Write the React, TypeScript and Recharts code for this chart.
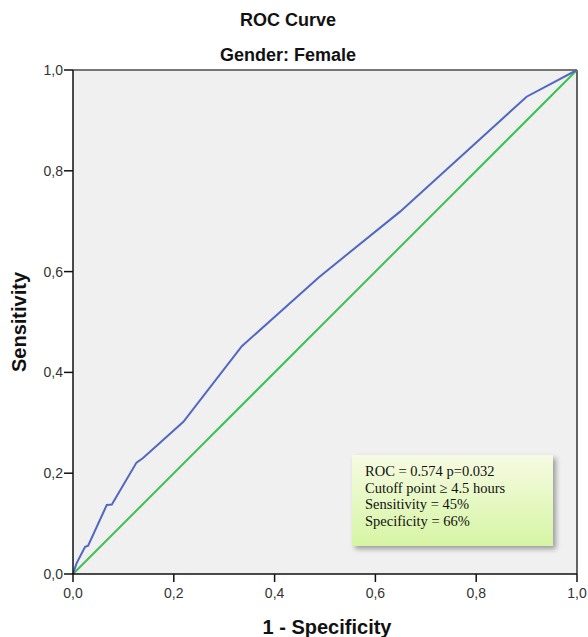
import { ComposedChart, Line, XAxis, YAxis, CartesianGrid, ReferenceLine } from "recharts"

// ROC curve points (1 - specificity, sensitivity)
const fpr = [0, 0.007, 0.024, 0.03, 0.067, 0.077, 0.126, 0.139, 0.219, 0.335, 0.488, 0.649, 0.9, 1]
const tpr = [0, 0.021, 0.054, 0.056, 0.137, 0.138, 0.221, 0.23, 0.302, 0.452, 0.589, 0.719, 0.947, 1]
const refX = [0, 1]
const refY = [0, 1]
const ticks = [0, 0.2, 0.4, 0.6, 0.8, 1]
const noteLines = ["ROC = 0.574 p=0.032", "Cutoff point \u2265 4.5 hours", "Sensitivity = 45%", "Specificity = 66%"]

const curve = fpr.map((x, i) => ({ x, y: tpr[i] }))
const diagonal = refX.map((x, i) => ({ x, y: refY[i] }))

const fmt = (v: number) => v.toFixed(1).replace(".", ",")

const sans = "'Liberation Sans', Arial, sans-serif"

const titleStyle = {
  position: "absolute" as const,
  left: 0,
  width: 576,
  textAlign: "center" as const,
  fontWeight: "bold",
  fontSize: 18,
  lineHeight: "21px",
  color: "#111",
}

export default function App() {
  return (
    <div style={{ position: "relative", width: 588, height: 637, fontFamily: sans, background: "#fff" }}>
      <style>{"body{margin:0}"}</style>
      <div style={{ ...titleStyle, top: 10 }}>ROC Curve</div>
      <div style={{ ...titleStyle, top: 45 }}>Gender: Female</div>
      <ComposedChart width={588} height={637} margin={{ top: 70, right: 11, bottom: 0, left: 0 }}>
        <CartesianGrid fill="#f0f0f0" horizontal={false} vertical={false} />
        <XAxis
          type="number"
          dataKey="x"
          domain={[0, 1]}
          ticks={ticks}
          tickFormatter={fmt}
          stroke="#111"
          strokeWidth={1.5}
          tickSize={8}
          tickMargin={6}
          height={63}
          tick={{ fontSize: 14, fill: "#333", fontFamily: sans }}
          label={{ value: "1 - Specificity", position: "insideBottom", offset: 3, dx: 2, style: { fontSize: 20, fontWeight: "bold", fill: "#111", fontFamily: sans } }}
        />
        <YAxis
          type="number"
          dataKey="y"
          domain={[0, 1]}
          ticks={ticks}
          tickFormatter={fmt}
          stroke="#111"
          strokeWidth={1.5}
          tickSize={9}
          tickMargin={1}
          width={73}
          tick={{ fontSize: 14, fill: "#333", fontFamily: sans }}
          label={{ value: "Sensitivity", angle: -90, position: "insideLeft", offset: 19, style: { fontSize: 20, fontWeight: "bold", fill: "#111", fontFamily: sans, textAnchor: "middle" } }}
        />
        <ReferenceLine y={1} stroke="#777" strokeWidth={2} />
        <ReferenceLine x={1} stroke="#333" strokeWidth={1.5} />
        <Line data={diagonal} dataKey="y" type="linear" stroke="#3fbf4f" strokeWidth={2} dot={false} isAnimationActive={false} />
        <Line data={curve} dataKey="y" type="linear" stroke="#5068c0" strokeWidth={2} dot={false} isAnimationActive={false} />
      </ComposedChart>
      <div
        style={{
          position: "absolute",
          left: 352,
          top: 455,
          width: 201,
          height: 91,
          boxSizing: "border-box",
          padding: "8px 0 0 13px",
          background: "linear-gradient(#f6fbe2, #d6f5a4)",
          boxShadow: "3px 3px 5px rgba(0,0,0,0.35)",
          fontFamily: "'Liberation Serif', 'Times New Roman', serif",
          fontSize: 14.5,
          lineHeight: "16.7px",
          color: "#111",
          whiteSpace: "nowrap",
        }}
      >
        {noteLines.map((t) => (
          <div key={t}>{t}</div>
        ))}
      </div>
    </div>
  )
}
